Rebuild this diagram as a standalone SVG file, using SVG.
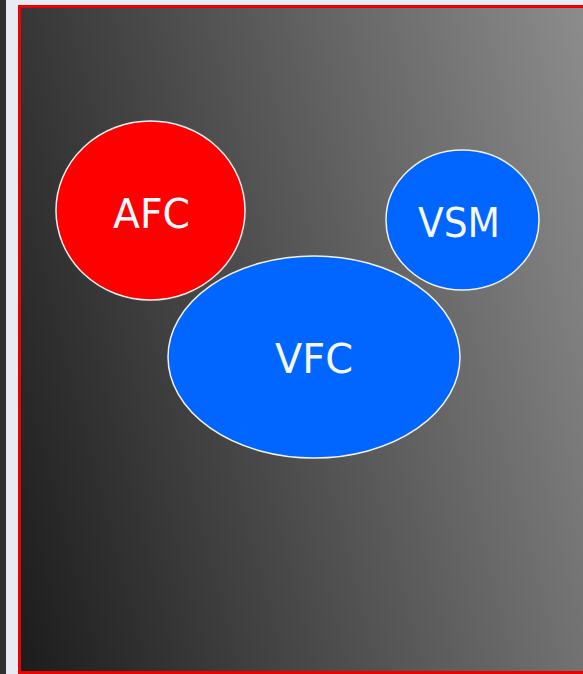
<svg xmlns="http://www.w3.org/2000/svg" width="583" height="674" viewBox="0 0 583 674">
  <defs>
    <linearGradient id="bg" gradientUnits="userSpaceOnUse" x1="20" y1="673" x2="710" y2="492">
      <stop offset="0" stop-color="#1c1c1c"/>
      <stop offset="1" stop-color="#8c8c8c"/>
    </linearGradient>
    <style>
      .node { stroke: #f2f2f2; stroke-width: 1.5; }
      .red { fill: #ff0000; }
      .blue { fill: #0066ff; }
      .lbl { font-family: "DejaVu Sans", Verdana, sans-serif; font-size: 40px; fill: #f4f8ff; text-anchor: middle; }
    </style>
  </defs>
  <rect x="0" y="0" width="583" height="674" fill="#e8ebf4"/>
  <rect x="0" y="0" width="6" height="674" fill="#303030"/>
  <rect x="19.5" y="6.5" width="600" height="666" fill="url(#bg)" stroke="#ee0000" stroke-width="3"/>
  <g id="connectors"/>
  <g id="node-afc">
    <ellipse class="node red" cx="150.5" cy="210.5" rx="94.5" ry="89.5"/>
    <text class="lbl" x="151.5" y="228" textLength="77" lengthAdjust="spacingAndGlyphs">AFC</text>
  </g>
  <g id="node-vsm">
    <ellipse class="node blue" cx="462.5" cy="220" rx="76.5" ry="70"/>
    <text class="lbl" x="459" y="237" textLength="82" lengthAdjust="spacingAndGlyphs">VSM</text>
  </g>
  <g id="node-vfc">
    <ellipse class="node blue" cx="314" cy="357" rx="146" ry="101"/>
    <text class="lbl" x="314" y="373" textLength="78" lengthAdjust="spacingAndGlyphs">VFC</text>
  </g>
</svg>
